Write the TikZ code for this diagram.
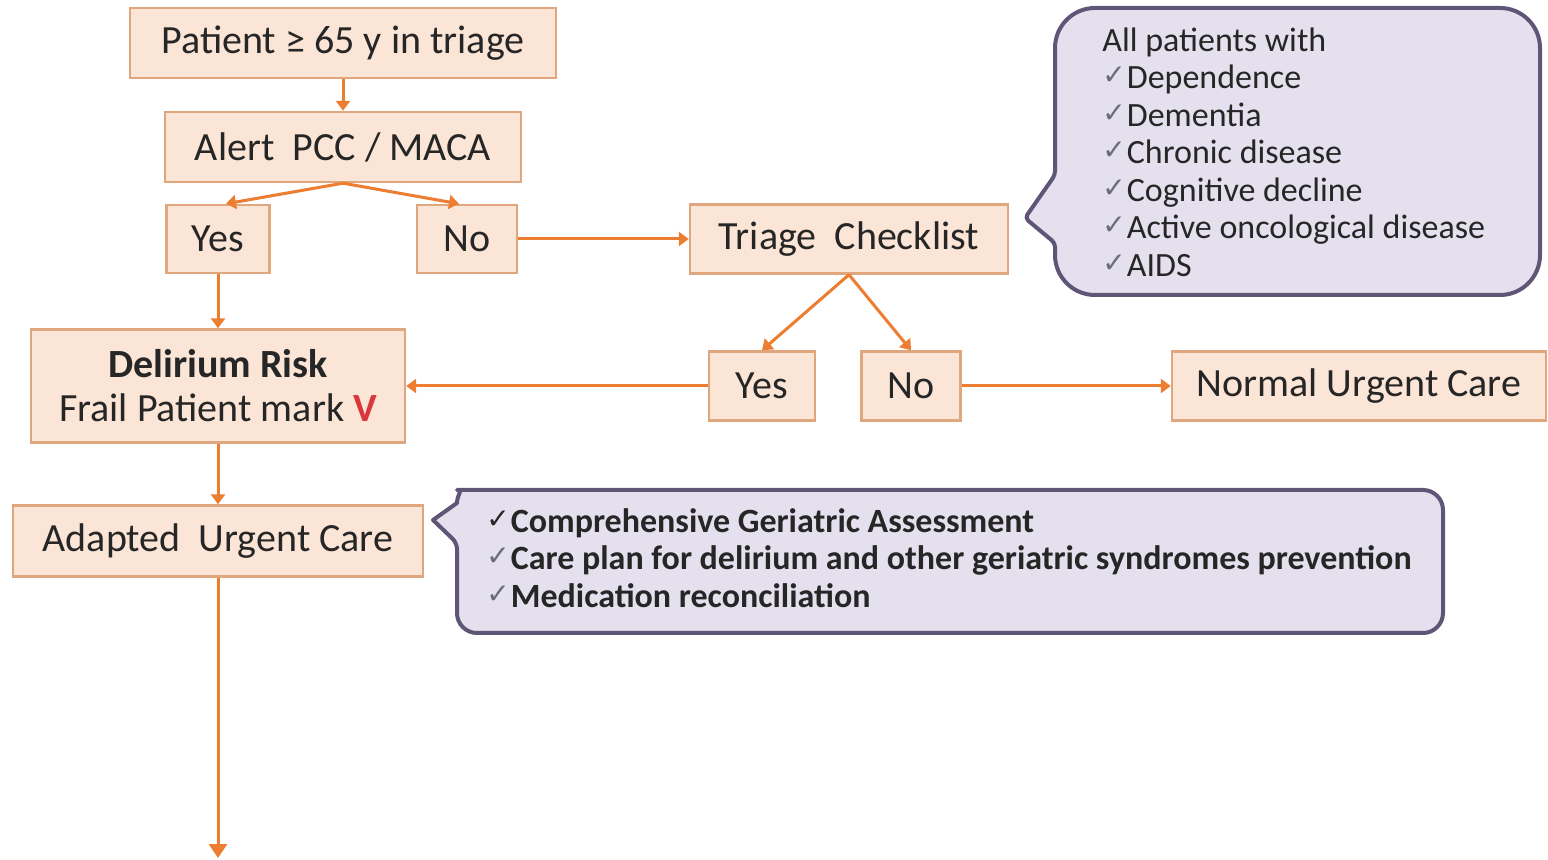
\documentclass[tikz,border=0pt]{standalone}
\usepackage{fontspec}
\setmainfont{Carlito}
\newfontfamily\symfont{DejaVu Sans}
\usetikzlibrary{
  arrows.meta
}
\definecolor{boxfill}{HTML}{FBE5D6}
\definecolor{boxline}{HTML}{E0A77E}
\definecolor{flow}{HTML}{ED7D31}
\definecolor{bubblefill}{HTML}{E5E0EE}
\definecolor{bubbleline}{HTML}{5F5677}
\definecolor{txt}{HTML}{262626}
\definecolor{tick}{HTML}{6B6B7E}
\definecolor{markred}{HTML}{D9373B}
\newcommand{\chk}[1][tick]{{\symfont\fontsize{14}{14}\selectfont\raisebox{2pt}{\textcolor{#1}{✓}}}\kern0.5pt}
\tikzset{
  stepbox/.style={
    draw=boxline, line width=1.2pt, fill=boxfill, text=txt,
    font=\fontsize{20}{22}\selectfont, inner sep=0pt
  },
  flowline/.style={
    draw=flow, line width=1.5pt, -{Triangle[width=7pt,length=5pt]}
  },
  bubbleshape/.style={
    draw=bubbleline, line width=2pt, fill=bubblefill, line join=round
  },
  bubbletext/.style={
    text=txt, align=left, inner sep=0pt, anchor=west,
    font=\fontsize{17}{18.75}\selectfont
  }
}

\begin{document}
\begin{tikzpicture}[x=0.5pt,y=-0.5pt]
\useasboundingbox (0,0) rectangle (1548,860);
% boxes of the flow
\node[stepbox, minimum width=213pt, minimum height=35pt] (patient) at (343,43) {Patient ≥ 65 y in triage};
\node[stepbox, minimum width=178pt, minimum height=35pt] (alert) at (343,147) {Alert\ \ PCC / MACA};
\node[stepbox, minimum width=51.5pt, minimum height=34pt] (yesA) at (218,239) {Yes};
\node[stepbox, minimum width=50pt, minimum height=34pt] (noA) at (467,239) {No};
\node[stepbox, minimum width=159pt, minimum height=34.5pt] (checklist) at (849,239) {Triage\ \ Checklist};
\node[stepbox, minimum width=53pt, minimum height=34.5pt] (yesB) at (762,386) {Yes};
\node[stepbox, minimum width=49.5pt, minimum height=34.5pt] (noB) at (911,386) {No};
\node[stepbox, minimum width=187pt, minimum height=34.5pt] (normal) at (1359,386) {Normal Urgent Care};
\node[stepbox, minimum width=187pt, minimum height=56.5pt, align=center] (delirium) at (218,386)
  {\bfseries Delirium Risk\\ Frail Patient mark {\bfseries\textcolor{markred}{V}}};
\node[stepbox, minimum width=205pt, minimum height=35.5pt] (adapted) at (218,541) {Adapted\ \ Urgent Care};
\coordinate (out) at (218,858);

% speech bubbles
\draw[bubbleshape] (1025,218) [rounded corners=2pt] -- (1055,243) [rounded corners=20pt] -- (1055,295)
  -- (1540,295) -- (1540,8) -- (1055,8) [rounded corners=2pt] -- (1055,175) -- cycle;
\draw[bubbleshape] (433,520) [rounded corners=3pt] -- (457,543) [rounded corners=10pt] -- (457,633)
  -- (1443,633) -- (1443,490) -- (477,490) [sharp corners] .. controls (464,490) and (457,494) .. (457,503) -- cycle;

\node[bubbletext] (criteria) at (1102,152)
  {All patients with\\
   \chk Dependence\\
   \chk Dementia\\
   \chk Chronic disease\\
   \chk Cognitive decline\\
   \chk Active oncological disease\\
   \chk AIDS};
\node[bubbletext, font=\fontsize{17}{18.75}\selectfont\bfseries] (actions) at (486,558)
  {\chk[txt] Comprehensive Geriatric Assessment\\
   \chk Care plan for delirium and other geriatric syndromes prevention\\
   \chk Medication reconciliation};

% connectors
\draw[flowline] (patient) -- (alert);
\draw[flowline] (alert.south) -- ([xshift=4pt]yesA.north);
\draw[flowline] (alert.south) -- ([xshift=-4pt]noA.north);
\draw[flowline] (noA) -- (checklist);
\draw[flowline] (yesA) -- (delirium);
\draw[flowline] (checklist.south) -- (yesB.north);
\draw[flowline] (checklist.south) -- (noB.north);
\draw[flowline] (yesB) -- (delirium);
\draw[flowline] (noB) -- (normal);
\draw[flowline] (delirium) -- (adapted);
\draw[flowline, -{Triangle[width=9pt,length=7pt]}] (adapted) -- (out);
\end{tikzpicture}
\end{document}
